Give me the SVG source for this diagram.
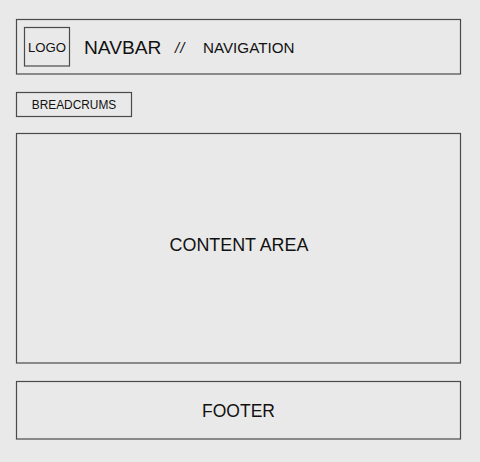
<svg xmlns="http://www.w3.org/2000/svg" width="480" height="462" viewBox="0 0 480 462">
<style>
.box{fill:none;stroke:#4a4a4a;stroke-width:1.2}
text{font-family:"Liberation Sans",Arial,sans-serif;fill:#111}
</style>
<rect width="480" height="462" fill="#e9e9e9"/>
<g id="navbar">
<rect class="box" x="16.5" y="19.5" width="444" height="54.5"/>
<text x="84" y="54" font-size="19.2">NAVBAR</text>
<text x="175" y="53" font-size="15" font-style="italic" fill="#333" letter-spacing="1">//</text>
<text x="203" y="52.5" font-size="15.2">NAVIGATION</text>
</g>
<g id="logo">
<rect class="box" x="24.5" y="27.5" width="45" height="38.5"/>
<text x="47" y="51.5" font-size="13.2" text-anchor="middle">LOGO</text>
</g>
<g id="breadcrumbs">
<rect class="box" x="16.5" y="92.5" width="115" height="24"/>
<text x="74" y="109" font-size="11.9" text-anchor="middle">BREADCRUMS</text>
</g>
<g id="content">
<rect class="box" x="16.5" y="133.5" width="444" height="229.5"/>
<text x="239" y="251" font-size="17.9" text-anchor="middle">CONTENT AREA</text>
</g>
<g id="footer">
<rect class="box" x="16.5" y="381.5" width="444" height="57.5"/>
<text x="238.5" y="417" font-size="17.5" text-anchor="middle">FOOTER</text>
</g>
<g id="connectors"/>
</svg>
